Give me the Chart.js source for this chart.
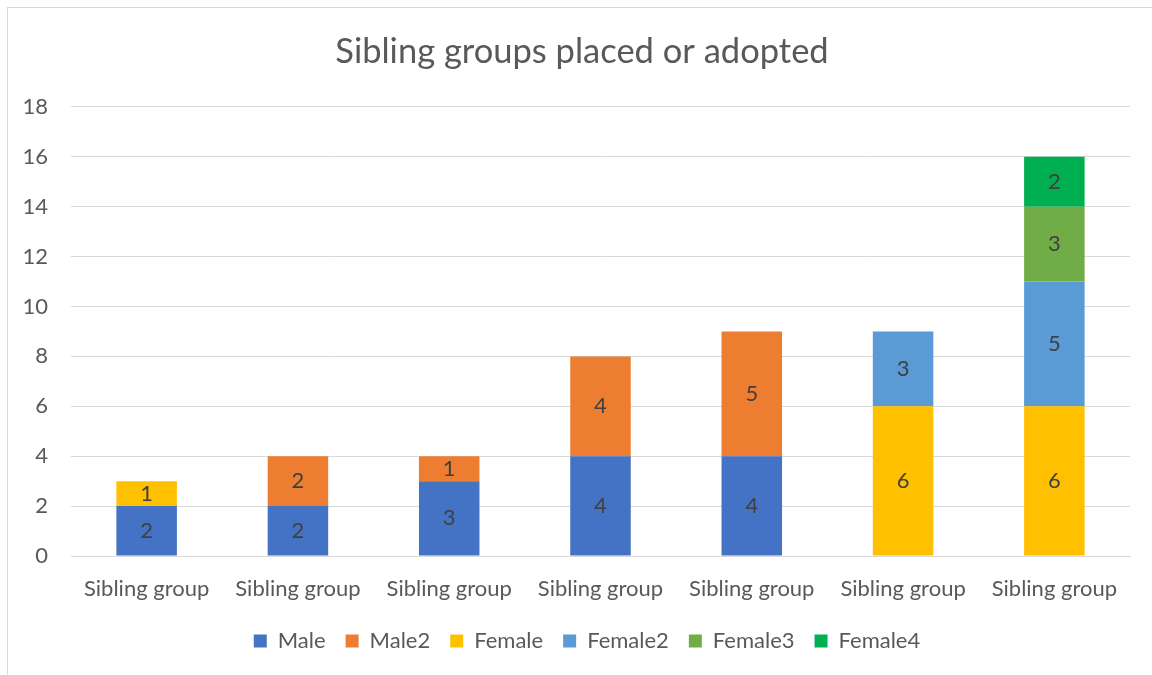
<!DOCTYPE html>
<html>
<head>
<meta charset="utf-8">
<script src="https://cdn.jsdelivr.net/npm/chart.js@4.4.1/dist/chart.umd.min.js"></script>
<style>
  html, body { margin: 0; padding: 0; background: #fff; }
  #wrap { position: relative; width: 1152px; height: 675px; }
  #frame { position: absolute; left: 7px; top: 7px; width: 1160px; height: 680px; border: 1px solid #d9d9d9; box-sizing: border-box; pointer-events: none; }
  canvas { position: absolute; left: 0; top: 0; }
</style>
</head>
<body>
<div id="wrap">
  <canvas id="c" width="1152" height="675"></canvas>
  <div id="frame"></div>
</div>
<script>
const categories = ["Sibling group", "Sibling group", "Sibling group", "Sibling group", "Sibling group", "Sibling group", "Sibling group"];
const male    = [2, 2, 3, 4, 4, null, null];
const male2   = [null, 2, 1, 4, 5, null, null];
const female  = [1, null, null, null, null, 6, 6];
const female2 = [null, null, null, null, null, 3, 5];
const female3 = [null, null, null, null, null, null, 3];
const female4 = [null, null, null, null, null, null, 2];
const yTicks = [0, 2, 4, 6, 8, 10, 12, 14, 16, 18];

const FONT = "Lato, 'Open Sans', sans-serif";

const labelPlugin = {
  id: 'barLabels',
  afterDatasetsDraw(chart) {
    const ctx = chart.ctx;
    ctx.save();
    ctx.font = "22px " + FONT;
    ctx.fillStyle = "#404040";
    ctx.textAlign = "center";
    ctx.textBaseline = "middle";
    chart.data.datasets.forEach((ds, i) => {
      const meta = chart.getDatasetMeta(i);
      meta.data.forEach((el, j) => {
        const v = ds.data[j];
        if (v === null || v === undefined) return;
        const p = el.getProps(['x', 'y', 'base'], true);
        ctx.fillText(String(v), p.x, (p.y + p.base) / 2);
      });
    });
    ctx.restore();
  }
};

// nudge title and legend horizontally to match the reference centring
const shiftPlugin = {
  id: 'shiftBlocks',
  afterLayout(chart) {
    if (chart.titleBlock) { chart.titleBlock.left += 7; chart.titleBlock.right += 7; }
    if (chart.legend) { chart.legend.left += 12; chart.legend.right += 12; }
  }
};

const mk = (label, data, color) => ({ label, data, backgroundColor: color, borderWidth: 0, categoryPercentage: 1.0, barPercentage: 0.4 });

new Chart(document.getElementById('c'), {
  type: 'bar',
  data: {
    labels: categories,
    datasets: [
      mk("Male", male, "#4472C4"),
      mk("Male2", male2, "#ED7D31"),
      mk("Female", female, "#FFC000"),
      mk("Female2", female2, "#5B9BD5"),
      mk("Female3", female3, "#70AD47"),
      mk("Female4", female4, "#00B050")
    ]
  },
  options: {
    responsive: false,
    animation: false,
    layout: { padding: { left: 20, right: 22, top: 20, bottom: 13 } },
    plugins: {
      title: {
        display: true,
        text: "Sibling groups placed or adopted",
        color: "#595959",
        font: { family: FONT, size: 34.5, weight: 'normal' },
        padding: { top: 11, bottom: 34.5 }
      },
      legend: {
        position: 'bottom',
        labels: {
          color: "#595959",
          font: { family: FONT, size: 22 },
          boxWidth: 13,
          boxHeight: 13,
          padding: 20
        }
      },
      tooltip: { enabled: false }
    },
    scales: {
      x: {
        stacked: true,
        grid: { display: false, drawTicks: false },
        border: { display: true, color: "#d9d9d9", width: 1 },
        ticks: { color: "#595959", font: { family: FONT, size: 22 }, padding: 20, maxRotation: 0, autoSkip: false },
        afterFit(scale) { scale.height = 54; }
      },
      y: {
        stacked: true,
        min: 0, max: 18,
        afterBuildTicks(scale) { scale.ticks = yTicks.map(v => ({ value: v })); },
        afterFit(scale) { scale.width = 51; },
        grid: { color: "#d9d9d9", drawTicks: false, lineWidth: 1 },
        border: { display: false },
        ticks: { color: "#595959", font: { family: FONT, size: 22 }, padding: 23 }
      }
    }
  },
  plugins: [labelPlugin, shiftPlugin]
});
</script>
</body>
</html>
